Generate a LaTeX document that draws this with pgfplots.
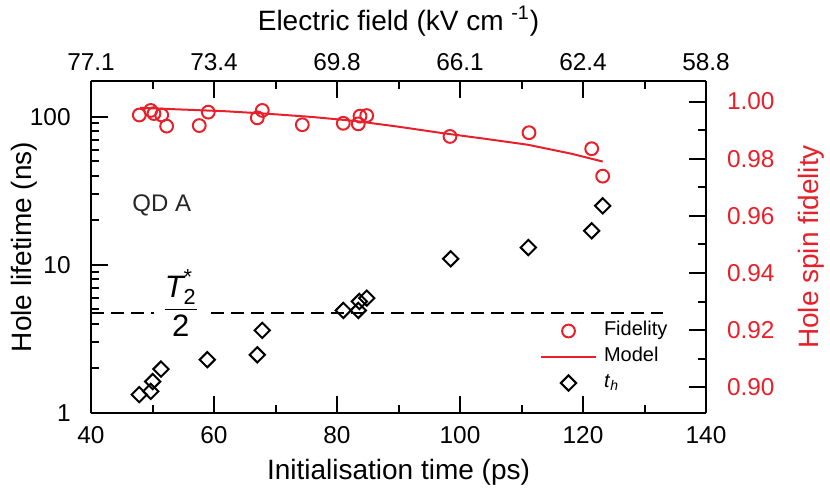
\documentclass[border=0pt]{standalone}
\usepackage{amsmath}
\usepackage{fontspec}
\setmainfont{Liberation Sans}
\usepackage{pgfplots}
\pgfplotsset{compat=1.18}

\definecolor{fidred}{RGB}{232,32,42}

\pgfplotsset{
  longleg/.style={legend image code/.code={%
    \draw[mark repeat=2,mark phase=2,##1] plot coordinates {(0pt,0pt) (13.75pt,0pt) (27.5pt,0pt)};}},
  frame/.style={
    scale only axis, width=307.5pt, height=166pt,
    xmin=40, xmax=140,
    axis line style={line width=1pt},
    every tick/.style={black, line width=1pt},
    major tick length=8.5pt, minor tick length=4.2pt,
    tick label style={font=\fontsize{12.2}{14}\selectfont},
    label style={font=\fontsize{14}{16}\selectfont},
    xtick={40,60,...,140}, minor xtick={50,70,...,130},
  },
}

\begin{document}
\begin{tikzpicture}
\useasboundingbox (-45.5pt,-38pt) rectangle (369.5pt,206.5pt);

% left / bottom: hole lifetime (log)
\begin{axis}[frame,
  axis x line*=bottom, axis y line*=left, tick align=inside,
  ymode=log, ymin=1, ymax=174,
  xticklabels={40,60,80,100,120,140},
  xticklabel style={anchor=base, yshift=-15pt, inner sep=0pt},
  ytick={1,10,100}, yticklabels={1,10,100},
  minor ytick={2,3,4,5,6,7,8,9,20,30,40,50,60,70,80,90},
  yticklabel style={anchor=east, xshift=-10pt, inner sep=0pt},
  xlabel={Initialisation time (ps)},
  xlabel style={at={(axis description cs:0.5,-0.1988)}, anchor=base},
  ylabel={Hole lifetime (ns)},
  ylabel style={at={(axis description cs:-0.09642,0.5)}, anchor=base},
]
\addplot[black, line width=1pt, dash pattern=on 6.5pt off 3.5pt] coordinates {(40,4.72) (133,4.72)};
\addplot[only marks, mark=square, mark size=2.7pt, mark options={rotate=45}, black, line width=1pt] coordinates {
  (47.85,1.33) (49.71,1.40) (50.03,1.63) (51.38,1.98) (58.91,2.29)
  (67.04,2.47) (67.85,3.61) (81.02,4.92) (83.46,4.92) (83.63,5.66)
  (84.83,5.96) (98.49,10.98) (111.11,13.08) (121.41,16.96) (123.2,25.0)
};
\node[text=black!85, font=\fontsize{12}{14}\selectfont] at (axis cs:51.5,25.1) {QD A};
\node[fill=white, inner xsep=4pt, inner ysep=1.5pt, font=\fontsize{15.5}{18}\selectfont] at (axis cs:54.6,5.5)
  {$\dfrac{\textit{T}_{\textrm{2}}^{\textrm{*}}}{\textrm{2}}$};
\end{axis}

% right / top: fidelity
\begin{axis}[frame,
  axis x line*=top, axis y line*=right, tick align=inside,
  ymin=0.891, ymax=1.0072,
  xticklabels={77.1,73.4,69.8,66.1,62.4,58.8},
  xticklabel style={anchor=base, yshift=5.5pt, inner sep=0pt},
  ytick={0.90,0.92,0.94,0.96,0.98,1.00},
  yticklabels={0.90,0.92,0.94,0.96,0.98,1.00},
  minor ytick={0.91,0.93,0.95,0.97,0.99},
  yticklabel style={anchor=west, xshift=10.3pt, inner sep=0pt, text=fidred},
  xlabel={Electric field (kV cm \textsuperscript{-1})},
  xlabel style={at={(axis description cs:0.5,1.15361)}, anchor=base},
  ylabel={Hole spin fidelity},
  ylabel style={at={(axis description cs:1.18211,0.5)}, anchor=base, text=fidred},
  legend cell align=left,
  legend style={draw=none, fill=none, inner sep=0pt, outer sep=0pt,
    at={(axis description cs:0.7301,0.2861)}, anchor=north west,
    font=\fontsize{10}{12}\selectfont, row sep=0pt, column sep=3.5pt,
    nodes={inner sep=0pt, text height=8.5pt, text depth=4.5pt}},
]
\addplot[only marks, mark=o, mark size=3.2pt, fidred, line width=1pt, longleg] coordinates {
  (47.85,0.9953) (49.71,0.9969) (50.24,0.9958) (51.5,0.9953) (52.3,0.9914)
  (57.6,0.9916) (59.07,0.9963) (67.04,0.9943) (67.85,0.9969) (74.36,0.9919)
  (81.02,0.9924) (83.46,0.9922) (83.74,0.9949) (84.83,0.9951) (98.37,0.9878)
  (111.22,0.9891) (121.41,0.9835) (123.2,0.9739)
};
\addlegendentry{Fidelity}
\addplot[fidred, line width=1pt, longleg] coordinates {
  (48,0.9978) (55,0.9972) (62,0.9966) (69,0.9957) (76,0.9946) (83,0.9932)
  (90,0.9912) (97,0.9890) (104,0.9870) (111,0.9849) (118,0.9818) (123.2,0.9790)
};
\addlegendentry{Model}
\addlegendimage{only marks, mark=square, mark size=2.7pt, mark options={rotate=45}, black, line width=1pt, longleg}
\addlegendentry{\textit{t}\textsubscript{\textit{h}}}
\end{axis}
\end{tikzpicture}
\end{document}
